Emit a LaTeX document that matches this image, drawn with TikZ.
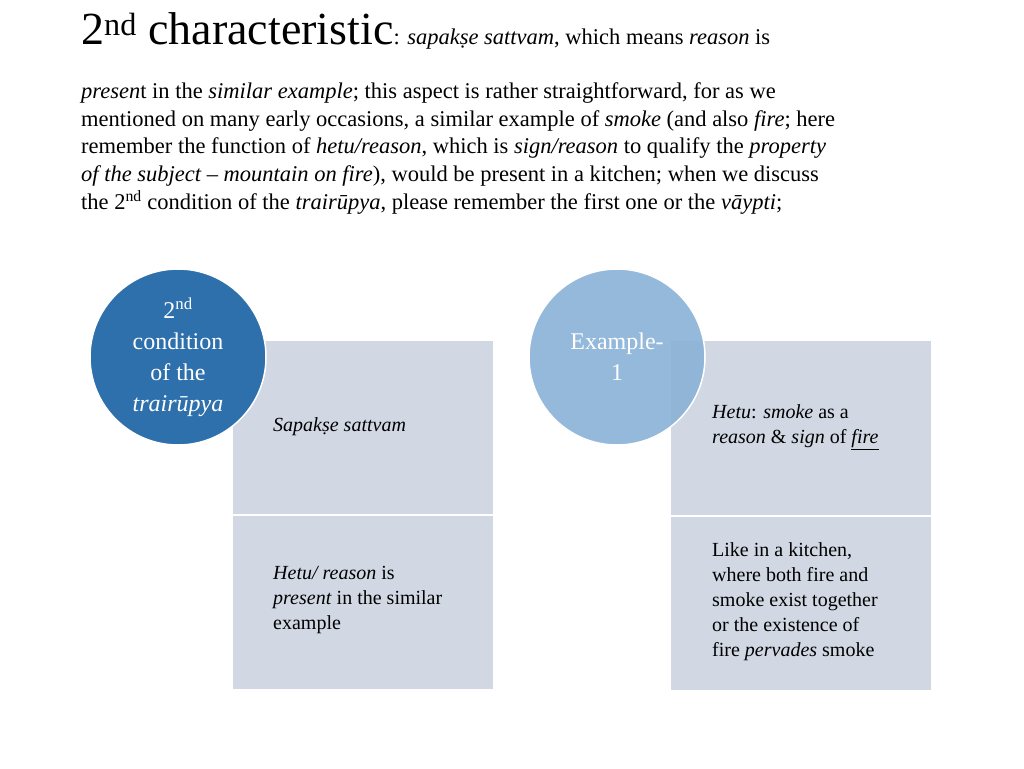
\documentclass[tikz,border=0pt]{standalone}
\usepackage{fontspec}
\setmainfont{Liberation Serif}
\begin{document}
\begin{tikzpicture}[x=1pt,y=-1pt,
  txt/.style={anchor=base west,inner sep=0pt,font=\fontsize{22.5}{27}\selectfont},
  btxt/.style={anchor=north west,inner sep=0pt,align=left,font=\fontsize{20}{25}\selectfont},
  box/.style={fill=boxc,draw=white,line width=1.5pt}]
\definecolor{boxc}{HTML}{D1D8E3}
\definecolor{circA}{HTML}{2E70AC}
\definecolor{circB}{HTML}{8AB2D6}
\useasboundingbox (0,0) rectangle (1024,768);
\fill[white] (0,0) rectangle (1024,768);
\node[txt] (t0) at (81,45) {\fontsize{46}{50}\selectfont 2\textsuperscript{nd} characteristic\fontsize{22.5}{27}\selectfont: \textit{sapakṣe sattvam}, which means \textit{reason} is};
\node[txt] (t1) at (81,98) {\textit{presen}t in the \textit{similar example}; this aspect is rather straightforward, for as we};
\node[txt] (t2) at (81,126) {mentioned on many early occasions, a similar example of \textit{smoke} (and also \textit{fire}; here};
\node[txt] (t3) at (81,153) {remember the function of \textit{hetu/reason}, which is \textit{sign/reason} to qualify the \textit{property}};
\node[txt] (t4) at (81,181) {\textit{of the subject – mountain on fire}), would be present in a kitchen; when we discuss};
\node[txt] (t5) at (81,209) {the 2\textsuperscript{nd} condition of the \textit{trairūpya}, please remember the first one or the \textit{vāypti};};
% left column
\draw[box] (232,340) rectangle (494,515);
\draw[box] (232,515) rectangle (494,690);
\node[btxt] (l1) at (273,417) {\textit{Sapakṣe sattvam}};
\node[btxt] (l2) at (273,566) {\textit{Hetu/ reason} is\\\textit{present} in the similar\\example};
\draw[fill=circA,draw=white,line width=1.5pt] (178,357) circle (88);
\node[align=center,text=white,font=\fontsize{24}{31}\selectfont] (c1) at (178,357) {2\textsuperscript{nd}\\condition\\of the\\\textit{trairūpya}};
% right column
\draw[box] (670,340) rectangle (932,516);
\draw[box] (670,516) rectangle (932,691);
\node[btxt] (r1) at (712,404) {\textit{Hetu}: \textit{smoke} as a\\\textit{reason} \& \textit{sign} of \underline{\textit{fire}}};
\node[btxt] (r2) at (712,542) {Like in a kitchen,\\where both fire and\\smoke exist together\\or the existence of\\fire \textit{pervades} smoke};
\draw[fill=circB,fill opacity=0.9,draw=white,line width=1.5pt] (617,357) circle (88);
\node[align=center,text=white,font=\fontsize{24}{31}\selectfont] (c2) at (617,357) {Example-\\1};
\end{tikzpicture}
\end{document}
